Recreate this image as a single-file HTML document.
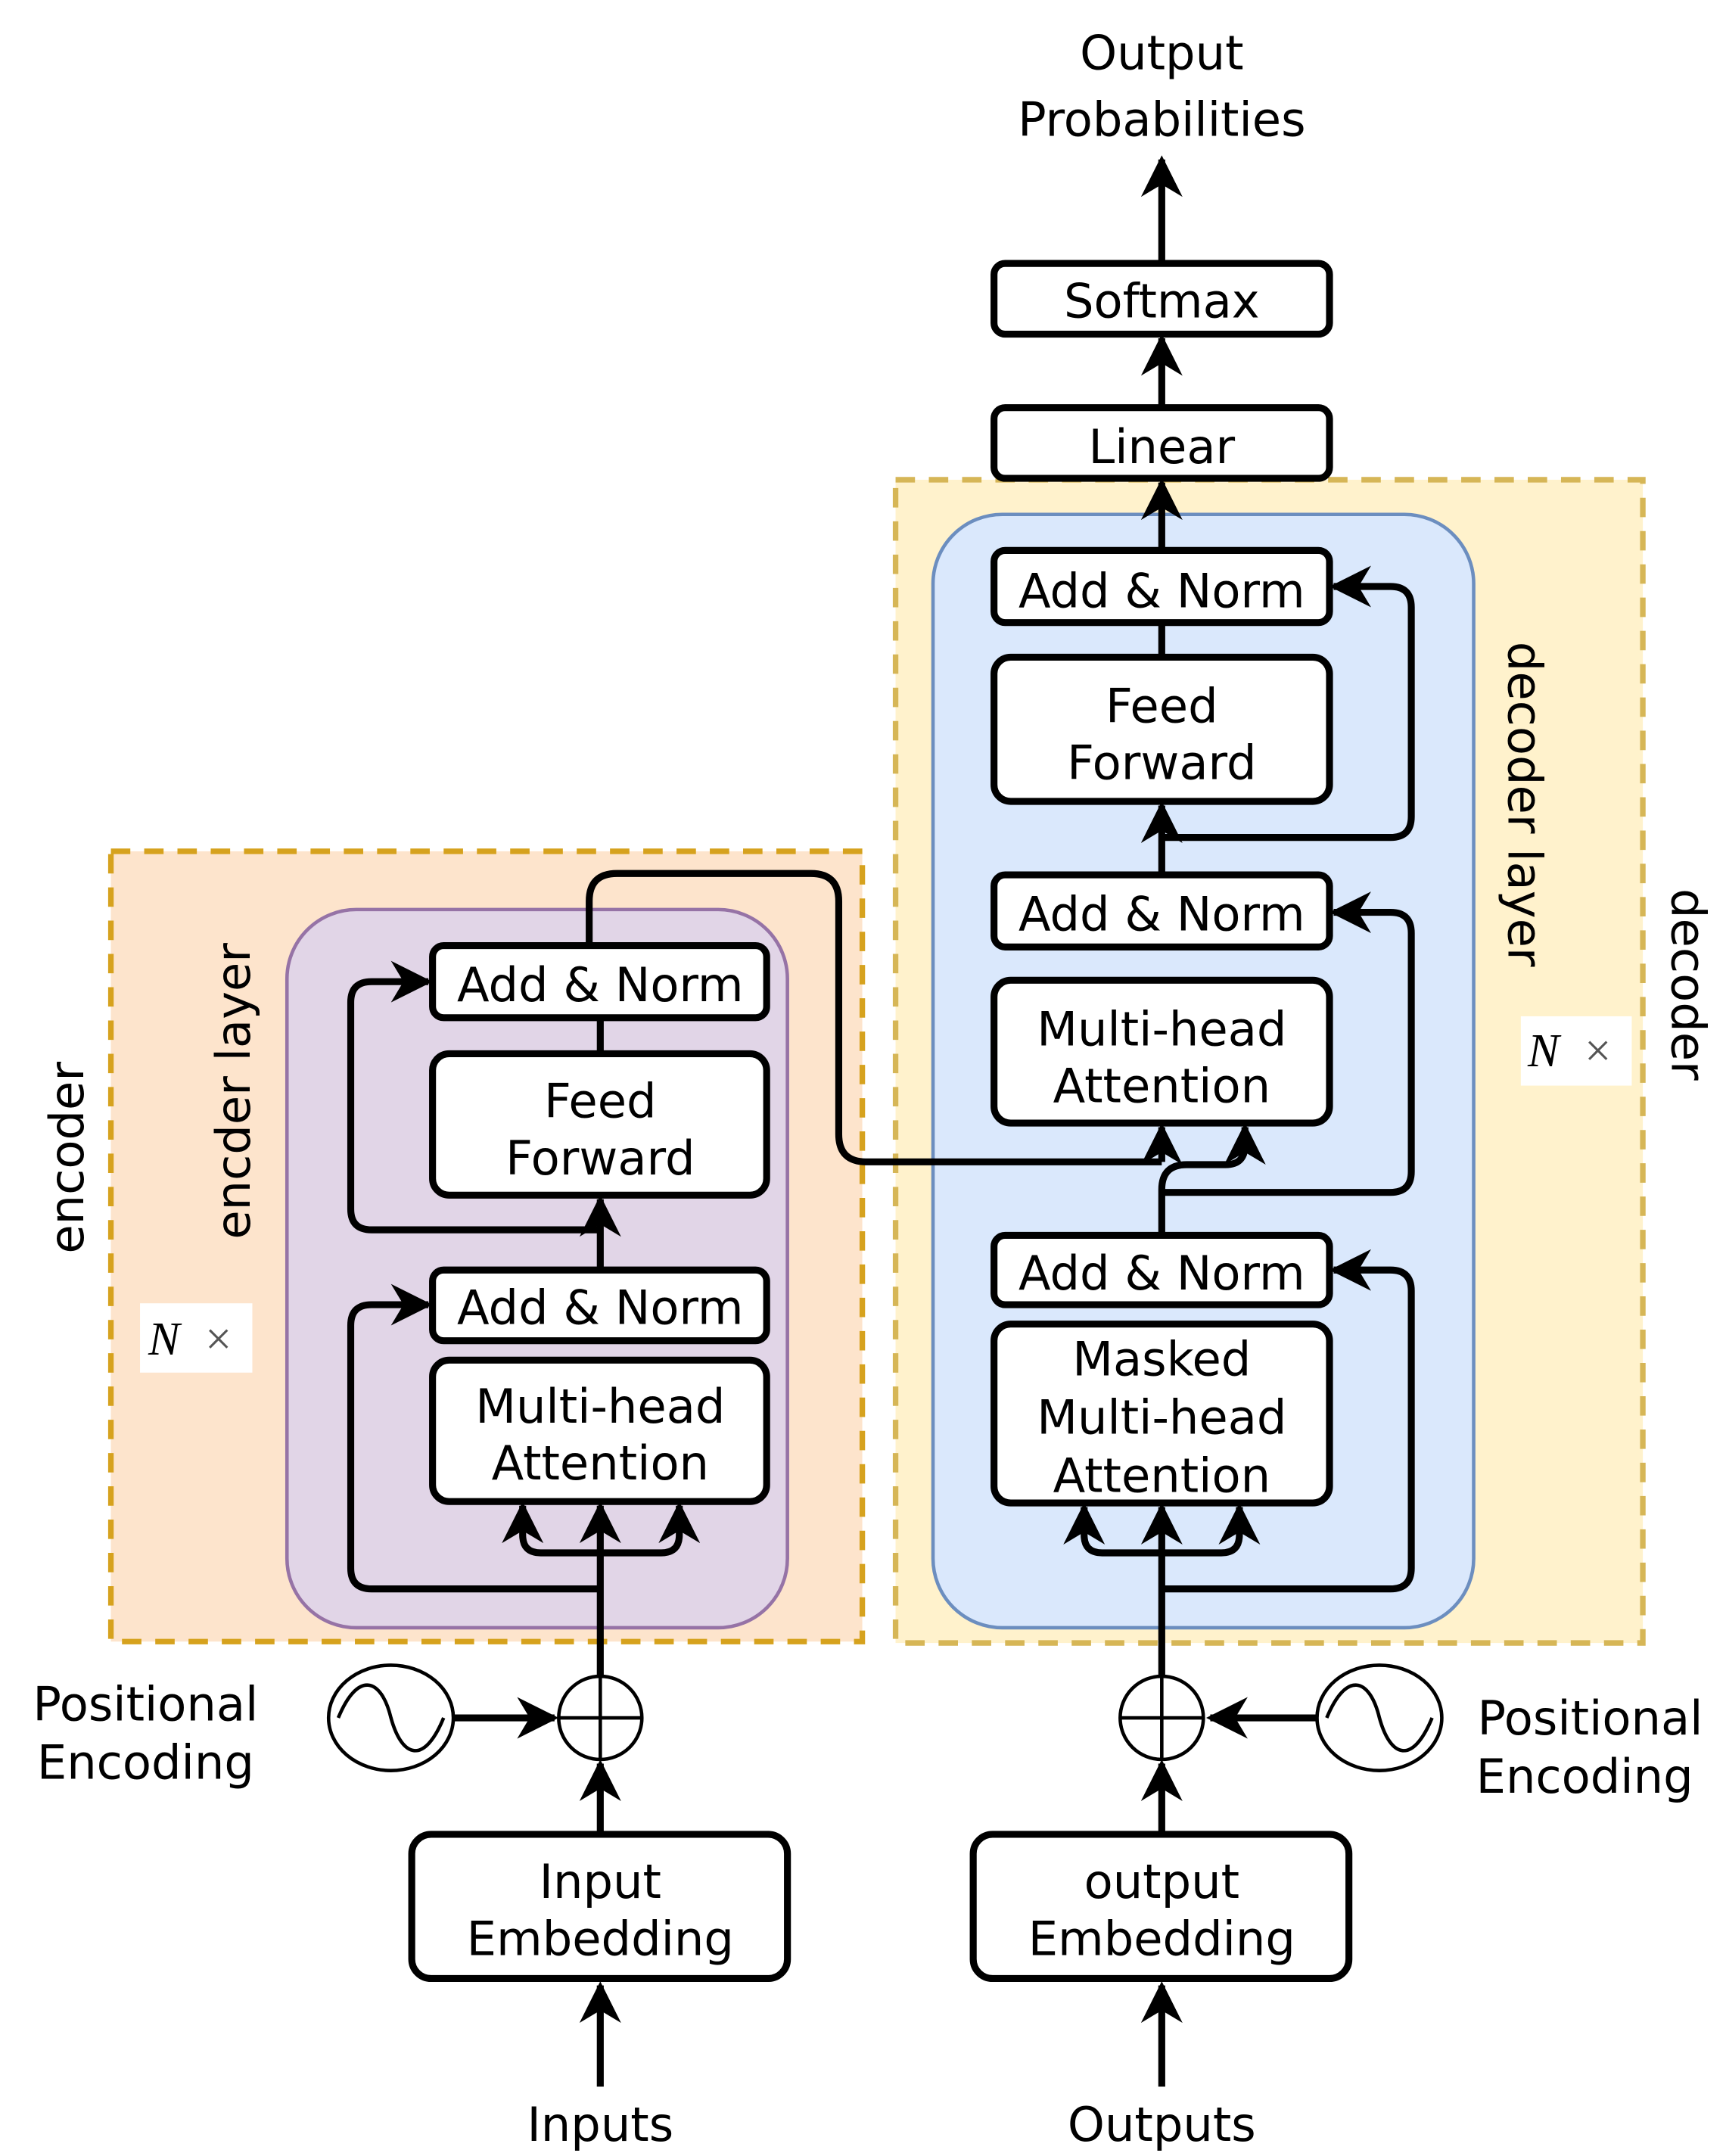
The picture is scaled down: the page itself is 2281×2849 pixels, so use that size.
<!DOCTYPE html>
<html><head><meta charset="utf-8"><style>html,body{margin:0;padding:0;background:#fff}svg{display:block}</style></head>
<body>
<svg width="2281" height="2849" viewBox="0 0 1245 1555" xmlns="http://www.w3.org/2000/svg" font-family="DejaVu Sans, sans-serif">
<defs>
<marker id="a" viewBox="0 0 10 10" refX="9" refY="5" markerWidth="6" markerHeight="6" orient="auto" markerUnits="strokeWidth">
<path d="M0,0 L10,5 L0,10 L3,5 Z" fill="#000"/></marker>
</defs>
<rect x="0" y="0" width="1245" height="1555" fill="#fff"/>
<rect x="80" y="614" width="542" height="570" fill="#fde4cc" stroke="#d6a21e" stroke-width="4" stroke-dasharray="14,10"/>
<rect x="207" y="656" width="361" height="518" rx="50" fill="#e1d5e7" stroke="#9673a6" stroke-width="2.5"/>
<rect x="646" y="346" width="539" height="839" fill="#fff2cc" stroke="#d6b656" stroke-width="4" stroke-dasharray="14,10"/>
<rect x="673" y="371" width="390" height="803" rx="50" fill="#dae8fc" stroke="#6c8ebf" stroke-width="2.5"/>

<g fill="none" stroke="#000" stroke-width="5">
<path d="M433,1505 L433,1432" marker-end="url(#a)"/>
<path d="M433,1323 L433,1272" marker-end="url(#a)"/>
<path d="M327,1239 L400,1239" marker-end="url(#a)"/>
<path d="M433,1209 L433,1086" marker-end="url(#a)"/>
<path d="M433,1120 L390,1120 Q377,1120 377,1107 L377,1086" marker-end="url(#a)"/>
<path d="M433,1120 L477,1120 Q490,1120 490,1107 L490,1086" marker-end="url(#a)"/>
<path d="M433,1146 L268,1146 Q253,1146 253,1131 L253,956 Q253,941 268,941 L309,941" marker-end="url(#a)"/>
<path d="M433,967 L433,865" marker-end="url(#a)"/>
<path d="M433,887 L268,887 Q253,887 253,872 L253,723 Q253,708 268,708 L309,708" marker-end="url(#a)"/>
<path d="M433,760 L433,734"/>
<path d="M425,682 L425,650 Q425,630 445,630 L585,630 Q605,630 605,650 L605,818 Q605,838 625,838 L838,838" />
<path d="M838,838 L838,813" marker-end="url(#a)"/>
<path d="M838,1505 L838,1432" marker-end="url(#a)"/>
<path d="M838,1323 L838,1272" marker-end="url(#a)"/>
<path d="M950,1239 L873,1239" marker-end="url(#a)"/>
<path d="M838,1209 L838,1087" marker-end="url(#a)"/>
<path d="M838,1120 L795,1120 Q782,1120 782,1107 L782,1087" marker-end="url(#a)"/>
<path d="M838,1120 L881,1120 Q894,1120 894,1107 L894,1087" marker-end="url(#a)"/>
<path d="M838,1146 L1003,1146 Q1018,1146 1018,1131 L1018,931 Q1018,916 1003,916 L962,916" marker-end="url(#a)"/>
<path d="M838,891 L838,858 Q838,840 856,840 L884,840 Q898,840 898,826 L898,813" marker-end="url(#a)"/>
<path d="M838,860 L1003,860 Q1018,860 1018,845 L1018,673 Q1018,658 1003,658 L962,658" marker-end="url(#a)"/>
<path d="M838,631 L838,581" marker-end="url(#a)"/>
<path d="M838,604 L1003,604 Q1018,604 1018,589 L1018,438 Q1018,423 1003,423 L962,423" marker-end="url(#a)"/>
<path d="M838,474 L838,449"/>
<path d="M838,397 L838,348" marker-end="url(#a)"/>
<path d="M838,294 L838,244" marker-end="url(#a)"/>
<path d="M838,190 L838,115" marker-end="url(#a)"/>
</g>

<g fill="#fff" stroke="#000" stroke-width="5">
<rect x="312" y="682" width="241" height="52" rx="8"/>
<rect x="312" y="760" width="241" height="102" rx="12"/>
<rect x="312" y="916" width="241" height="51" rx="8"/>
<rect x="312" y="981" width="241" height="102" rx="12"/>
<rect x="717" y="397" width="242" height="52" rx="8"/>
<rect x="717" y="474" width="242" height="104" rx="12"/>
<rect x="717" y="631" width="242" height="52" rx="8"/>
<rect x="717" y="707" width="242" height="103" rx="12"/>
<rect x="717" y="891" width="242" height="50" rx="8"/>
<rect x="717" y="955" width="242" height="129" rx="12"/>
<rect x="717" y="294" width="242" height="51" rx="8"/>
<rect x="717" y="190" width="242" height="51" rx="8"/>
<rect x="297" y="1323" width="271" height="104" rx="14"/>
<rect x="702" y="1323" width="271" height="104" rx="14"/>
</g>
<g fill="#fff" stroke="#000" stroke-width="2.5">
<circle cx="433" cy="1239" r="30"/><path d="M403,1239 H463 M433,1209 V1269"/>
<circle cx="838" cy="1239" r="30"/><path d="M808,1239 H868 M838,1209 V1269"/>
<ellipse cx="282" cy="1239" rx="45" ry="38"/>
<path d="M244,1239 C258,1205 275,1210 282,1239 C290,1268 306,1273 320,1239" fill="none"/>
<ellipse cx="995" cy="1239" rx="45" ry="38"/>
<path d="M957,1239 C971,1205 988,1210 995,1239 C1003,1268 1019,1273 1033,1239" fill="none"/>
</g>
<rect x="101" y="940" width="81" height="50" fill="#fff"/>
<rect x="1097" y="733" width="80" height="50" fill="#fff"/>

<g font-size="34" text-anchor="middle" fill="#000">
<text x="838" y="50">Output</text>
<text x="838" y="98">Probabilities</text>
<text x="838" y="229">Softmax</text>
<text x="838" y="334">Linear</text>
<text x="838" y="438">Add &amp; Norm</text>
<text x="838" y="521">Feed</text>
<text x="838" y="562">Forward</text>
<text x="838" y="671">Add &amp; Norm</text>
<text x="838" y="754">Multi-head</text>
<text x="838" y="795">Attention</text>
<text x="838" y="930">Add &amp; Norm</text>
<text x="838" y="992">Masked</text>
<text x="838" y="1034">Multi-head</text>
<text x="838" y="1076">Attention</text>
<text x="433" y="722">Add &amp; Norm</text>
<text x="433" y="806">Feed</text>
<text x="433" y="847">Forward</text>
<text x="433" y="955">Add &amp; Norm</text>
<text x="433" y="1026">Multi-head</text>
<text x="433" y="1067">Attention</text>
<text x="433" y="1369">Input</text>
<text x="433" y="1410">Embedding</text>
<text x="838" y="1369">output</text>
<text x="838" y="1410">Embedding</text>
<text x="433" y="1544">Inputs</text>
<text x="838" y="1544">Outputs</text>
<text x="105" y="1241">Positional</text>
<text x="105" y="1283">Encoding</text>
<text x="1147" y="1251">Positional</text>
<text x="1143" y="1293">Encoding</text>
<text transform="translate(60,835) rotate(-90)">encoder</text>
<text transform="translate(180,787) rotate(-90)">encder layer</text>
<text transform="translate(1088,580) rotate(90)">decoder layer</text>
<text transform="translate(1206,710) rotate(90)">decoder</text>
</g>
<g font-family="Liberation Serif, serif" font-size="34" fill="#000">
<text x="107" y="977" font-style="italic">N</text>
<text x="148" y="977" fill="#555">×</text>
<text x="1102" y="769" font-style="italic">N</text>
<text x="1143" y="769" fill="#555">×</text>
</g>
</svg>
</body></html>
